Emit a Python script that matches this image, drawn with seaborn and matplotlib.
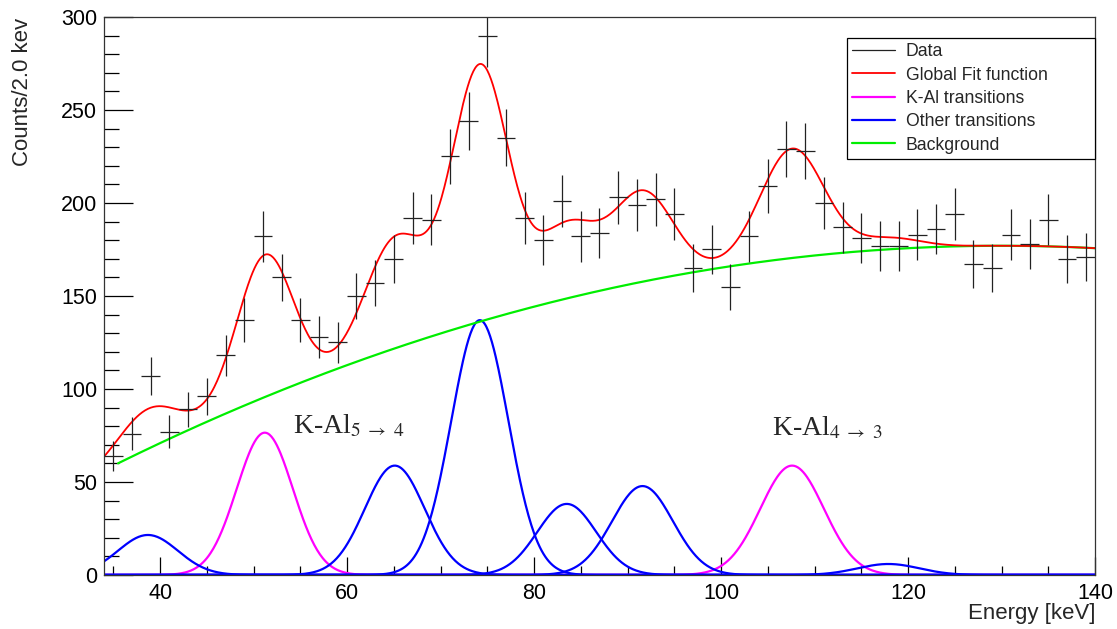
import numpy as np
import pandas as pd
import matplotlib
matplotlib.use("Agg")
import matplotlib.pyplot as plt
import seaborn as sns
from matplotlib.ticker import MultipleLocator
from matplotlib.lines import Line2D

# histogram, 2 keV bins (centres 35 ... 139)
bin_centres = np.arange(35, 140, 2)
counts = [64, 76, 107, 77, 89, 96, 118, 137, 182, 160, 137, 128, 125,
          150, 157, 170, 192, 191, 225, 244, 290, 235, 192, 180, 201, 182,
          184, 203, 199, 202, 194, 165, 175, 155, 182, 209, 229, 228, 200, 187,
          181, 177, 177, 183, 186, 194, 167, 165, 183, 178, 191, 170, 171]

# fitted gaussians
kal_centres = [51.2, 107.6]
kal_heights = [76.5, 58.8]
kal_sigmas = [3.0, 3.4]

other_centres = [38.7, 65.1, 74.2, 83.5, 91.6, 117.9]
other_heights = [21.5, 58.8, 137.0, 38.2, 47.8, 5.9]
other_sigmas = [3.2, 3.2, 3.05, 3.15, 3.25, 3.3]

# background (quadratic, vertex)
bg_vertex_energy = 130.0
bg_vertex_counts = 177.0
bg_curvature = 0.0131
bg_start = 35.5

e_min, e_max = 34, 140

sns.set_style("ticks")
plt.rcParams['font.family'] = ['Liberation Sans', 'DejaVu Sans']
plt.rcParams['mathtext.fontset'] = 'stix'

energy = np.linspace(e_min, e_max, 1061)


def gauss(x, c, h, s):
    return h * np.exp(-0.5 * ((x - c) / s) ** 2)


def background(x):
    return bg_vertex_counts - bg_curvature * (x - bg_vertex_energy) ** 2


kal_curves = [gauss(energy, c, h, s) for c, h, s in zip(kal_centres, kal_heights, kal_sigmas)]
other_curves = [gauss(energy, c, h, s) for c, h, s in zip(other_centres, other_heights, other_sigmas)]
total = background(energy) + sum(kal_curves) + sum(other_curves)

df = pd.DataFrame({"energy": bin_centres, "counts": counts})
df["err"] = np.sqrt(df["counts"])

fig = plt.figure(figsize=(11.17, 6.29), dpi=100)
ax = fig.add_axes([0.0931, 0.0859, 0.8872, 0.8871])

for curve in kal_curves:
    sns.lineplot(x=energy, y=curve, ax=ax, color='#ff00ff', linewidth=1.6)
for curve in other_curves:
    sns.lineplot(x=energy, y=curve, ax=ax, color='#0000ff', linewidth=1.6)

mask = energy >= bg_start
sns.lineplot(x=energy[mask], y=background(energy[mask]), ax=ax, color='#00ee00', linewidth=1.6)
sns.lineplot(x=energy, y=total, ax=ax, color='#ff0000', linewidth=1.3)

ax.errorbar(df["energy"], df["counts"], xerr=1.0, yerr=df["err"], fmt='none',
            ecolor='#222222', elinewidth=0.9, capsize=0)

ax.set_xlim(e_min, e_max)
ax.set_ylim(0, 300)
ax.xaxis.set_major_locator(MultipleLocator(20))
ax.xaxis.set_minor_locator(MultipleLocator(5))
ax.yaxis.set_major_locator(MultipleLocator(50))
ax.yaxis.set_minor_locator(MultipleLocator(10))
ax.tick_params(axis='both', which='both', direction='in', colors='black',
               labelsize=15.5, top=False, right=False)
ax.tick_params(axis='y', which='major', length=21, width=0.9, pad=5)
ax.tick_params(axis='y', which='minor', length=10.5, width=0.9)
ax.tick_params(axis='x', which='major', length=13, width=0.9, pad=6)
ax.tick_params(axis='x', which='minor', length=6.5, width=0.9)
for sp in ax.spines.values():
    sp.set_color('#333333')
    sp.set_linewidth(0.9)
ax.set_xlabel('')
ax.set_ylabel('')

# axis titles, ROOT style (aligned to the axis ends)
fig.text(1095 / 1117, 1 - 613 / 629, 'Energy [keV]', fontsize=16, ha='right', va='center')
fig.text(23 / 1117, 1 - 18 / 629, 'Counts/2.0 kev', fontsize=16, rotation=90,
         ha='center', va='top')

ax.text(54.2, 76.3, r'K-Al$_{5\ \rightarrow\ 4}$', fontsize=20,
        family='Liberation Serif', va='baseline', ha='left')
ax.text(105.5, 75.3, r'K-Al$_{4\ \rightarrow\ 3}$', fontsize=20,
        family='Liberation Serif', va='baseline', ha='left')

handles = [Line2D([], [], color='#222222', linewidth=0.9),
           Line2D([], [], color='#ff0000', linewidth=1.3),
           Line2D([], [], color='#ff00ff', linewidth=1.6),
           Line2D([], [], color='#0000ff', linewidth=1.6),
           Line2D([], [], color='#00ee00', linewidth=1.6)]
labels = ['Data', 'Global Fit function', 'K-Al transitions', 'Other transitions', 'Background']
leg = ax.legend(handles, labels, loc='upper left',
                bbox_to_anchor=(0.7497, 0.7509, 0.2503, 0.2115), mode='expand',
                borderaxespad=0, fontsize=12.7, frameon=True, fancybox=False,
                handlelength=2.44, labelspacing=0.36, borderpad=0.3, handletextpad=0.6)
leg.get_frame().set_edgecolor('black')
leg.get_frame().set_linewidth(0.9)
leg.get_frame().set_alpha(1)

plt.savefig("out.png", dpi=100)
plt.close()
